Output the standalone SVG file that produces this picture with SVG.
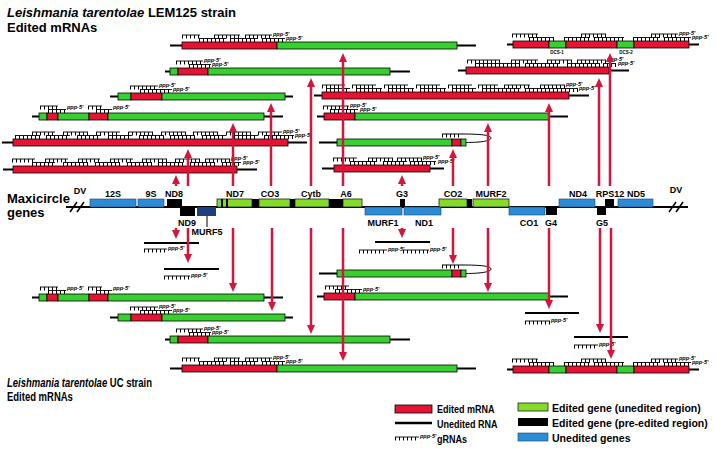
<svg xmlns="http://www.w3.org/2000/svg" width="716" height="456" viewBox="0 0 716 456">
<style>
text{font-family:"Liberation Sans",Arial,sans-serif}
.t{font-size:13px;font-weight:bold}
.lab{font-size:9px;font-weight:bold;text-anchor:middle}
.lg{font-size:11px;font-weight:bold}
.p{font-size:5.5px;font-style:italic;font-weight:bold}
.dcs{font-size:4.5px;font-weight:bold;text-anchor:middle}
.ln{stroke:#000;stroke-width:2;fill:none}
.r{fill:#e61432;stroke:#000;stroke-width:.8}
.g{fill:#38d030;stroke:#000;stroke-width:.8}
.gg{fill:#84dc28;stroke:#222;stroke-width:.8}
.bl{fill:#2b8bd4;stroke:#16486e;stroke-width:.6}
.nv{fill:#1d3f80}
.bk{fill:#000}
.gh{stroke:#000;stroke-width:.9;fill:none}
.gt{stroke:#000;stroke-width:3.5;stroke-dasharray:1 3;fill:none}
.lp{stroke:#000;stroke-width:1;fill:none}
.sl{stroke:#000;stroke-width:1.5;fill:none}
.ar{stroke:#d4163c;stroke-width:2.5;fill:none;marker-end:url(#ah)}
</style>
<defs>
<marker id="ah" viewBox="0 0 9 8" refX="3" refY="4" markerWidth="9" markerHeight="8" markerUnits="userSpaceOnUse" orient="auto"><path d="M0,0L9,4L0,8z" fill="#d4163c"/></marker>
<!-- bars -->
<g id="bA"><path class="ln" d="M170,3.5H476"/><rect class="r" x="182" width="95" height="7"/><rect class="g" x="277" width="180" height="7"/></g>
<g id="bDCS"><path class="ln" d="M507,3.5H699"/><rect class="r" x="513" width="36" height="7"/><rect class="g" x="549" width="17" height="7"/><rect class="r" x="566" width="51" height="7"/><rect class="g" x="617" width="17" height="7"/><rect class="r" x="634" width="55" height="7"/></g>
<g id="bB"><path class="ln" d="M165,3.5H410"/><rect class="g" x="170" width="8" height="7"/><rect class="r" x="178" width="30" height="7"/><rect class="g" x="208" width="182" height="7"/></g>
<g id="bBp"><path class="ln" d="M458,3.5H629"/><rect class="r" x="466" width="143" height="7"/></g>
<g id="bC"><path class="ln" d="M110,3.5H293"/><rect class="g" x="118" width="13" height="7"/><rect class="r" x="131" width="31" height="7"/><rect class="g" x="162" width="123" height="7"/></g>
<g id="bCp"><path class="ln" d="M314,3.5H589"/><rect class="r" x="322" width="247" height="7"/></g>
<g id="bD"><path class="ln" d="M32,3.5H283"/><rect class="g" x="39" width="8" height="7"/><rect class="r" x="47" width="11" height="7"/><rect class="g" x="58" width="31" height="7"/><rect class="r" x="89" width="19" height="7"/><rect class="g" x="108" width="156" height="7"/></g>
<g id="bDp"><path class="ln" d="M317,3.5H568"/><rect class="r" x="324" width="31" height="7"/><rect class="g" x="355" width="194" height="7"/></g>
<g id="bE"><path class="ln" d="M2,3.5H307"/><rect class="r" x="13" width="275" height="7"/></g>
<g id="bEp"><path class="ln" d="M319,3.5H466"/><rect class="g" x="337" width="115" height="7"/><rect class="r" x="452" width="9" height="7"/><rect class="g" x="461" width="5" height="7"/><path class="lp" d="M466,3.5C480,3.5 491,2 491,-1C491,-4 480,-5 462,-5H442"/><path class="gt" d="M442-3.25H462"/></g>
<g id="bF"><path class="ln" d="M3,3.5H257"/><rect class="r" x="13" width="224" height="7"/></g>
<g id="bFp"><path class="ln" d="M322,3.5H444"/><rect class="r" x="334" width="96" height="7"/></g>
<!-- gRNA sets -->
<path id="sA" d="M182-7H200M214-7H240M245-7H272M199-3.5H226M230-3.5H258M262-3.5H285"/>
<g id="gA"><use href="#sA" class="gh"/><use href="#sA" class="gt" y="1.75"/><text class="p" x="273" y="-6">ppp-5'</text><text class="p" x="286" y="-2.5">ppp-5'</text></g>
<path id="sDCS" d="M512-7H538M581-7H606M651-7H678M529-3.5H554M564-3.5H590M594-3.5H624M633-3.5H660M664-3.5H691"/>
<g id="gDCS"><use href="#sDCS" class="gh"/><use href="#sDCS" class="gt" y="1.75"/><text class="p" x="679" y="-6">ppp-5'</text><text class="p" x="692" y="-2.5">ppp-5'</text></g>
<path id="sB" d="M176-7H203M189-3.5H211"/>
<g id="gB"><use href="#sB" class="gh"/><use href="#sB" class="gt" y="1.75"/><text class="p" x="204" y="-6">ppp-5'</text><text class="p" x="212" y="-2.5">ppp-5'</text></g>
<path id="sBp" d="M467-7H500M511-7H538M547-7H572M577-7H606M475-3.5H520M525-3.5H560M567-3.5H600M603-3.5H616"/>
<g id="gBp"><use href="#sBp" class="gh"/><use href="#sBp" class="gt" y="1.75"/><text class="p" x="607" y="-6">ppp-5'</text><text class="p" x="618" y="-2.5">ppp-5'</text></g>
<path id="sC" d="M130-7H158M140-3.5H172"/>
<g id="gC"><use href="#sC" class="gh"/><use href="#sC" class="gt" y="1.75"/><text class="p" x="159" y="-6">ppp-5'</text><text class="p" x="173" y="-2.5">ppp-5'</text></g>
<path id="sCp" d="M322-7H345M352-7H376M384-7H408M416-7H440M448-7H472M478-7H498M504-7H530M540-7H565M326-3.5H350M356-3.5H382M388-3.5H414M420-3.5H446M452-3.5H476M482-3.5H520M525-3.5H578"/>
<g id="gCp"><use href="#sCp" class="gh"/><use href="#sCp" class="gt" y="1.75"/><text class="p" x="566" y="-6">ppp-5'</text><text class="p" x="579" y="-2.5">ppp-5'</text></g>
<path id="sD" d="M40-7H58M88-7H102M48-3.5H66M96-3.5H112"/>
<g id="gD"><use href="#sD" class="gh"/><use href="#sD" class="gt" y="1.75"/><text class="p" x="67" y="-4">ppp-5'</text><text class="p" x="113" y="-4">ppp-5'</text></g>
<path id="sDp" d="M323-7H349M330-3.5H358"/>
<g id="gDp"><use href="#sDp" class="gh"/><use href="#sDp" class="gt" y="1.75"/><text class="p" x="350" y="-6">ppp-5'</text><text class="p" x="360" y="-2.5">ppp-5'</text></g>
<path id="sE" d="M32-7H55M63-7H88M96-7H120M128-7H153M161-7H186M193-7H218M226-7H251M258-7H282M15-3.5H40M46-3.5H70M77-3.5H101M108-3.5H132M139-3.5H164M170-3.5H195M202-3.5H226M234-3.5H258M264-3.5H294"/>
<g id="gE"><use href="#sE" class="gh"/><use href="#sE" class="gt" y="1.75"/><text class="p" x="283" y="-6">ppp-5'</text><text class="p" x="295" y="-2.5">ppp-5'</text></g>
<path id="sF" d="M12-7H35M45-7H68M78-7H100M110-7H133M142-7H167M175-7H200M205-7H230M32-3.5H55M63-3.5H88M95-3.5H120M127-3.5H152M158-3.5H183M190-3.5H215M222-3.5H241"/>
<g id="gF"><use href="#sF" class="gh"/><use href="#sF" class="gt" y="1.75"/><text class="p" x="231" y="-6">ppp-5'</text><text class="p" x="243" y="-2.5">ppp-5'</text></g>
<path id="sFp" d="M333-7H357M368-7H393M397-7H422M350-3.5H377M383-3.5H407M410-3.5H436"/>
<g id="gFp"><use href="#sFp" class="gh"/><use href="#sFp" class="gt" y="1.75"/><text class="p" x="423" y="-6">ppp-5'</text><text class="p" x="438" y="-2.5">ppp-5'</text></g>
<path id="sL" d="M325-7H349M335-3.5H362"/>
<g id="gL"><use href="#sL" class="gh"/><use href="#sL" class="gt" y="1.75"/><text class="p" x="363" y="-2.5">ppp-5'</text></g>
<path id="sS" d="M144,249H167M164,276H190M359,250H387M403,250H429M525,321H550M574,345H598"/>
</defs>

<rect width="716" height="456" fill="#fff"/>

<g id="titles">
<text class="t" x="7" y="17"><tspan font-style="italic">Leishmania tarentolae</tspan> LEM125 strain</text>
<text class="t" x="7" y="32">Edited mRNAs</text>
<text class="t" transform="translate(7,387) scale(0.73,1)"><tspan font-style="italic">Leishmania tarentolae</tspan> UC strain</text>
<text class="t" transform="translate(7,401) scale(0.73,1)">Edited mRNAs</text>
<text class="t" x="7" y="203">Maxicircle</text>
<text class="t" x="7" y="217">genes</text>
</g>

<g id="lem125-mRNAs">
<g id="lem-A6" transform="translate(0,42)"><use href="#bA"/><use href="#gA"/></g>
<g id="lem-RPS12" transform="translate(0,41)"><use href="#bDCS"/><use href="#gDCS"/><text class="dcs" x="557" y="13">DCS-1</text><text class="dcs" x="626" y="13">DCS-2</text></g>
<g id="lem-Cytb" transform="translate(0,68)"><use href="#bB"/><use href="#gB"/></g>
<g id="lem-G5" transform="translate(0,67)"><use href="#bBp"/><use href="#gBp"/></g>
<g id="lem-CO3" transform="translate(0,93)"><use href="#bC"/><use href="#gC"/></g>
<g id="lem-G4" transform="translate(0,92)"><use href="#bCp"/><use href="#gCp"/></g>
<g id="lem-ND7" transform="translate(0,113)"><use href="#bD"/><use href="#gD"/></g>
<g id="lem-MURF2" transform="translate(0,113)"><use href="#bDp"/><use href="#gDp"/></g>
<g id="lem-ND9" transform="translate(0,139)"><use href="#bE"/><use href="#gE"/></g>
<g id="lem-CO2" transform="translate(0,139)"><use href="#bEp"/></g>
<g id="lem-ND8" transform="translate(0,166)"><use href="#bF"/><use href="#gF"/></g>
<g id="lem-G3" transform="translate(0,165)"><use href="#bFp"/><use href="#gFp"/></g>
</g>

<g id="maxicircle">
<path class="ln" d="M66,207H688"/>
<path class="sl" d="M70,212L77,202M77,212L84,202M669,212L676,202M676,212L683,202"/>
<rect class="bl" x="90" y="199" width="46" height="8"/>
<rect class="bl" x="138" y="199" width="26" height="8"/>
<rect class="bk" x="167" y="199" width="15" height="8"/>
<rect class="bk" x="180" y="207" width="15" height="9"/>
<rect class="nv" x="197" y="207" width="19" height="9"/>
<path class="lp" d="M207,216V227"/>
<rect class="gg" x="217" y="199" width="35" height="8"/>
<rect class="bk" x="221" y="199" width="2" height="8"/>
<rect class="bk" x="226" y="199" width="2" height="8"/>
<rect class="bk" x="252" y="199" width="7" height="8"/>
<rect class="gg" x="259" y="199" width="31" height="8"/>
<rect class="bk" x="290" y="199" width="5" height="8"/>
<rect class="gg" x="295" y="199" width="34" height="8"/>
<rect class="bk" x="329" y="199" width="14" height="8"/>
<rect class="gg" x="343" y="199" width="19" height="8"/>
<rect class="bl" x="365" y="207" width="37" height="8"/>
<rect class="bl" x="404" y="207" width="37" height="8"/>
<rect class="bk" x="400" y="199" width="5" height="8"/>
<rect class="gg" x="439" y="199" width="28" height="8"/>
<rect class="bk" x="467" y="199" width="5" height="8"/>
<rect class="gg" x="473" y="199" width="36" height="8"/>
<rect class="bl" x="509" y="207" width="36" height="8"/>
<rect class="bk" x="546" y="207" width="11" height="8"/>
<rect class="bl" x="559" y="199" width="36" height="8"/>
<rect class="bk" x="597" y="207" width="9" height="8"/>
<rect class="bk" x="605" y="199" width="9" height="8"/>
<rect class="bl" x="618" y="199" width="35" height="8"/>
<text class="lab" x="80" y="194">DV</text>
<text class="lab" x="113" y="197">12S</text>
<text class="lab" x="151" y="197">9S</text>
<text class="lab" x="174" y="197">ND8</text>
<text class="lab" x="235" y="197">ND7</text>
<text class="lab" x="270" y="197">CO3</text>
<text class="lab" x="311" y="197">Cytb</text>
<text class="lab" x="346" y="197">A6</text>
<text class="lab" x="402" y="197">G3</text>
<text class="lab" x="453" y="197">CO2</text>
<text class="lab" x="491" y="197">MURF2</text>
<text class="lab" x="578" y="197">ND4</text>
<text class="lab" x="610" y="197">RPS12</text>
<text class="lab" x="636" y="197">ND5</text>
<text class="lab" x="676" y="193">DV</text>
<text class="lab" x="187" y="226">ND9</text>
<text class="lab" x="207" y="235">MURF5</text>
<text class="lab" x="383" y="226">MURF1</text>
<text class="lab" x="424" y="226">ND1</text>
<text class="lab" x="529" y="226">CO1</text>
<text class="lab" x="551" y="226">G4</text>
<text class="lab" x="602" y="226">G5</text>
</g>

<g id="uc-gRNA-targets">
<path class="ln" d="M144,243H199M164,269H219M375,242H430M525,313H579M574,337H628"/>
<use href="#sS" class="gh"/><use href="#sS" class="gt" y="1.75"/>
<text class="p" x="168" y="250">ppp-5'</text>
<text class="p" x="191" y="277">ppp-5'</text>
<text class="p" x="388" y="251">ppp-5'</text>
<text class="p" x="430" y="251">ppp-5'</text>
<text class="p" x="551" y="322">ppp-5'</text>
<text class="p" x="599" y="346">ppp-5'</text>
</g>

<g id="uc-mRNAs">
<g id="uc-ND7" transform="translate(0,294)"><use href="#bD"/><use href="#gD"/></g>
<g id="uc-CO3" transform="translate(0,314)"><use href="#bC"/><use href="#gC"/></g>
<g id="uc-Cytb" transform="translate(0,336)"><use href="#bB"/><use href="#gB"/></g>
<g id="uc-A6" transform="translate(0,365)"><use href="#bA"/><use href="#gA"/></g>
<g id="uc-CO2" transform="translate(0,270)"><use href="#bEp"/></g>
<g id="uc-MURF2" transform="translate(0,293)"><use href="#bDp"/><use href="#gL"/></g>
<g id="uc-RPS12" transform="translate(0,366)"><use href="#bDCS"/><use href="#gDCS"/></g>
</g>

<g id="connectors">
<path class="ar" d="M176,186V181"/>
<path class="ar" d="M188,186V155"/>
<path class="ar" d="M233,186V129"/>
<path class="ar" d="M271,186V109"/>
<path class="ar" d="M311,186V84"/>
<path class="ar" d="M343,186V59"/>
<path class="ar" d="M402,186V181"/>
<path class="ar" d="M453,186V155"/>
<path class="ar" d="M488,186V129"/>
<path class="ar" d="M549,186V109"/>
<path class="ar" d="M599,186V84"/>
<path class="ar" d="M610,186V59"/>
<path class="ar" d="M176,228V233"/>
<path class="ar" d="M188,228V257"/>
<path class="ar" d="M233,228V286"/>
<path class="ar" d="M272,228V305"/>
<path class="ar" d="M311,228V328"/>
<path class="ar" d="M343,228V355"/>
<path class="ar" d="M402,228V232"/>
<path class="ar" d="M453,228V258"/>
<path class="ar" d="M488,228V286"/>
<path class="ar" d="M549,228V303"/>
<path class="ar" d="M600,228V327"/>
<path class="ar" d="M611,228V353"/>
</g>

<g id="legend">
<rect class="r" x="395" y="405" width="37" height="8"/>
<text class="lg" transform="translate(437,413) scale(0.82,1)">Edited mRNA</text>
<path class="ln" d="M395,423H432" style="stroke-width:2.5"/>
<text class="lg" transform="translate(437,428) scale(0.82,1)">Unedited RNA</text>
<path class="gh" d="M395,437H419"/><path class="gt" d="M395,438.75H419"/>
<text class="p" x="420" y="438">ppp-5'</text>
<text class="lg" transform="translate(437,443) scale(0.82,1)">gRNAs</text>
<rect class="gg" x="518" y="403" width="30" height="8"/>
<text class="lg" transform="translate(552,412) scale(0.96,1)">Edited gene (unedited region)</text>
<rect class="bk" x="518" y="418" width="30" height="8"/>
<text class="lg" transform="translate(552,427) scale(0.96,1)">Edited gene (pre-edited region)</text>
<rect class="bl" x="518" y="433" width="30" height="8"/>
<text class="lg" transform="translate(552,442) scale(0.96,1)">Unedited genes</text>
</g>
</svg>
